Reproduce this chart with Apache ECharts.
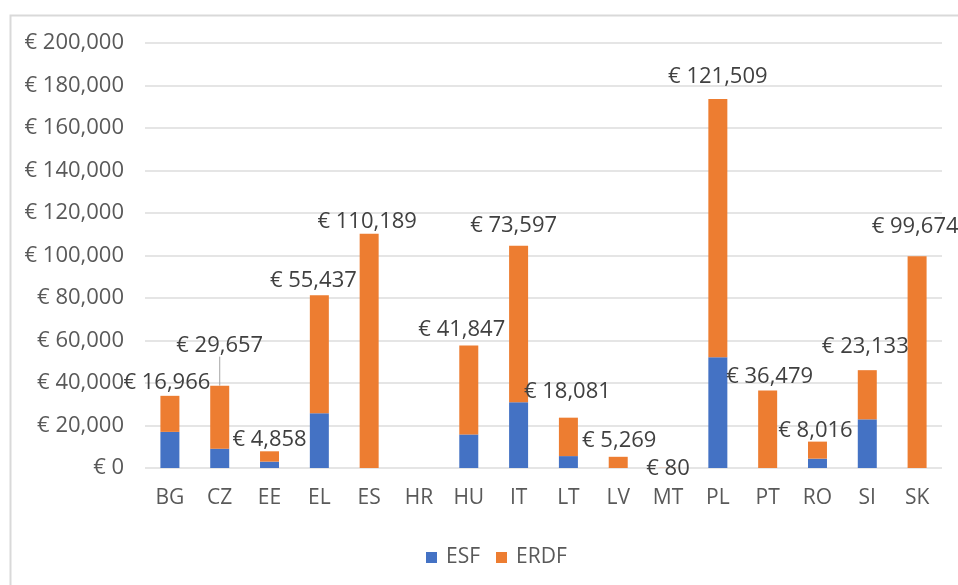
<!DOCTYPE html>
<html>
<head>
<meta charset="utf-8">
<script src="https://cdn.jsdelivr.net/npm/echarts@6/dist/echarts.min.js"></script>
<style>
html,body{margin:0;padding:0;background:#fff;}
#chart{width:958px;height:585px;}
</style>
</head>
<body>
<div id="chart"></div>
<script>
// ---- data ----
const categories = ['BG','CZ','EE','EL','ES','HR','HU','IT','LT','LV','MT','PL','PT','RO','SI','SK'];
const esfValues  = [17000, 9100, 3000, 25800, 0, 0, 15800, 31000, 5600, 0, 0, 52100, 0, 4400, 22900, 0];
const erdfValues = [16966, 29657, 4858, 55437, 110189, 0, 41847, 73597, 18081, 5269, 80, 121509, 36479, 8016, 23133, 99674];
const yTicks = [0, 20000, 40000, 60000, 80000, 100000, 120000, 140000, 160000, 180000, 200000];

// ---- styles (label placement relative to bar top) ----
const labelShift = [[-3,-13],[0,-40],[0,-12],[-6,-15],[-2,-12],[0,0],[-7,-16],[-5,-20],[-1,-26],[1,-16],[0,1],[0,-22],[2,-14],[-2,-11],[-2,-23],[-2,-29]];
const leaderIndex = 1;

const FONT = '"Open Sans", "Noto Sans", sans-serif';
const fmt = v => '€ ' + Number(v).toLocaleString('en-US');

const chart = echarts.init(document.getElementById('chart'), null, {renderer: 'canvas'});
chart.setOption({
  animation: false,
  backgroundColor: '#ffffff',
  textStyle: {fontFamily: FONT},
  graphic: [{
    type: 'rect', left: 8, top: 13, silent: true,
    shape: {width: 1000, height: 620},
    style: {fill: 'none', stroke: '#d9d9d9', lineWidth: 2}
  }],
  grid: {left: 145, right: 16, top: 43, bottom: 117, containLabel: false},
  legend: {
    left: 421, top: 542,
    itemWidth: 11, itemHeight: 11, itemGap: 16,
    icon: 'rect',
    textStyle: {fontFamily: FONT, fontSize: 21, color: '#595959', padding: [0,0,0,4]},
    data: ['ESF', 'ERDF']
  },
  xAxis: {
    type: 'category',
    data: categories,
    axisLine: {show: false},
    axisTick: {show: false},
    axisLabel: {fontFamily: FONT, fontSize: 21, color: '#595959', margin: 20}
  },
  yAxis: {
    type: 'value',
    min: yTicks[0], max: yTicks[yTicks.length - 1], interval: yTicks[1] - yTicks[0],
    axisLine: {show: false},
    axisTick: {show: false},
    splitLine: {lineStyle: {color: '#dcdcdc', width: 1.5}},
    axisLabel: {fontFamily: FONT, fontSize: 22, color: '#595959', margin: 21, formatter: fmt}
  },
  series: [
    {
      name: 'ESF', type: 'bar', stack: 'total', barWidth: 19,
      itemStyle: {color: '#4472C4'},
      data: esfValues
    },
    {
      name: 'ERDF', type: 'bar', stack: 'total', barWidth: 19,
      itemStyle: {color: '#ED7D31'},
      data: erdfValues.map((v, i) => i === leaderIndex
        ? {value: v, labelLine: {show: true, lineStyle: {color: '#a6a6a6', width: 1}}}
        : v),
      label: {
        show: true, position: 'top',
        fontFamily: FONT, fontSize: 22, color: '#404040',
        formatter: p => p.value ? fmt(p.value) : ''
      },
      labelLine: {show: false},
      labelLayout: function (params) {
        const s = labelShift[params.dataIndex] || [0, 0];
        const r = params.rect;
        return {
          x: r.x + r.width / 2 + s[0],
          y: r.y + s[1],
          align: 'center',
          verticalAlign: 'middle'
        };
      }
    }
  ]
});
</script>
</body>
</html>
